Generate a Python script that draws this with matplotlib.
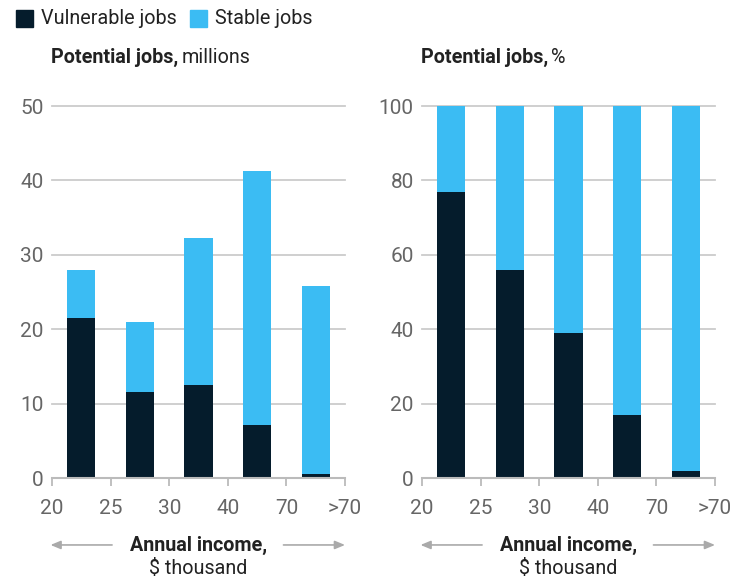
import matplotlib
matplotlib.use("Agg")
import matplotlib.pyplot as plt
import numpy as np
from matplotlib.patches import Rectangle

income_ticks = ["20", "25", "30", "40", "70", ">70"]
vulnerable_millions = [21.5, 11.6, 12.5, 7.1, 0.5]
stable_millions = [6.5, 9.4, 19.8, 34.1, 25.3]
vulnerable_pct = [77, 56, 39, 17, 2]
stable_pct = [23, 44, 61, 83, 98]

DARK = "#051c2c"
BLUE = "#3bbcf3"
TEXT = "#222222"
TICK = "#666666"
GRID = "#cccccc"
FS = 14.2

plt.rcParams['font.family'] = ['Roboto', 'DejaVu Sans']

fig = plt.figure(figsize=(7.34, 5.8), dpi=100)

def setup(ax, vul, stab, ymax, yticks, title_bold, title_rest):
    x = np.arange(len(vul)) + 0.5
    ax.bar(x, vul, width=0.48, color=DARK, zorder=3)
    ax.bar(x, stab, width=0.48, bottom=vul, color=BLUE, zorder=3)
    ax.set_xlim(0, 5)
    ax.set_ylim(0, ymax)
    ax.set_yticks(yticks)
    ax.set_xticks(np.arange(6))
    ax.set_xticklabels(income_ticks)
    for s in ["left", "right", "top"]:
        ax.spines[s].set_visible(False)
    ax.spines["bottom"].set_color("#bbbbbb")
    ax.spines["bottom"].set_linewidth(1.5)
    ax.spines["bottom"].set_zorder(4)
    ax.grid(axis="y", color=GRID, linewidth=1.3, zorder=0)
    for gl in ax.get_ygridlines():
        gl.set_clip_on(False)
    ax.tick_params(axis="y", length=0, pad=6, labelsize=15, labelcolor=TICK)
    ax.tick_params(axis="x", length=6, width=1.3, color="#bbbbbb", pad=9,
                   labelsize=15, labelcolor=TICK)
    t = ax.text(-0.005, 1.115, title_bold, transform=ax.transAxes, fontsize=FS,
                fontweight="bold", color=TEXT, ha="left", va="baseline")
    fig.canvas.draw()
    bb = t.get_window_extent()
    inv = ax.transAxes.inverted()
    xr = inv.transform((bb.x1, bb.y0))[0]
    ax.text(xr + 0.012, 1.115, title_rest, transform=ax.transAxes, fontsize=FS,
            color=TEXT, ha="left", va="baseline")
    ax.text(0.5, -0.18, "Annual income,", transform=ax.transAxes, fontsize=FS,
            fontweight="bold", color=TEXT, ha="center", va="center")
    ax.text(0.5, -0.243, "$ thousand", transform=ax.transAxes, fontsize=FS,
            color=TEXT, ha="center", va="center")
    arrow = dict(arrowstyle="-|>,head_length=0.6,head_width=0.25", color="#aaaaaa",
                 lw=1.2, shrinkA=0, shrinkB=0)
    ax.annotate("", xy=(-0.005, -0.18), xytext=(0.205, -0.18),
                xycoords="axes fraction", textcoords="axes fraction", arrowprops=arrow)
    ax.annotate("", xy=(1.0, -0.18), xytext=(0.79, -0.18),
                xycoords="axes fraction", textcoords="axes fraction", arrowprops=arrow)

ax1 = fig.add_axes([52/734, 1-478/580, 293/734, 372/580])
ax2 = fig.add_axes([422/734, 1-478/580, 293/734, 372/580])

setup(ax1, vulnerable_millions, stable_millions, 50, [0, 10, 20, 30, 40, 50],
      "Potential jobs,", "millions")
setup(ax2, vulnerable_pct, stable_pct, 100, [0, 20, 40, 60, 80, 100],
      "Potential jobs,", "%")

fig.patches.append(Rectangle((16/734, 1-27/580), 17/734, 17/580, color=DARK,
                             transform=fig.transFigure, figure=fig))
fig.text(41/734, 1-19/580, "Vulnerable jobs", fontsize=FS, color=TEXT,
         ha="left", va="center")
fig.patches.append(Rectangle((190/734, 1-27/580), 17/734, 17/580, color=BLUE,
                             transform=fig.transFigure, figure=fig))
fig.text(215/734, 1-19/580, "Stable jobs", fontsize=FS, color=TEXT,
         ha="left", va="center")

fig.savefig("out.png", dpi=100, facecolor="white")
